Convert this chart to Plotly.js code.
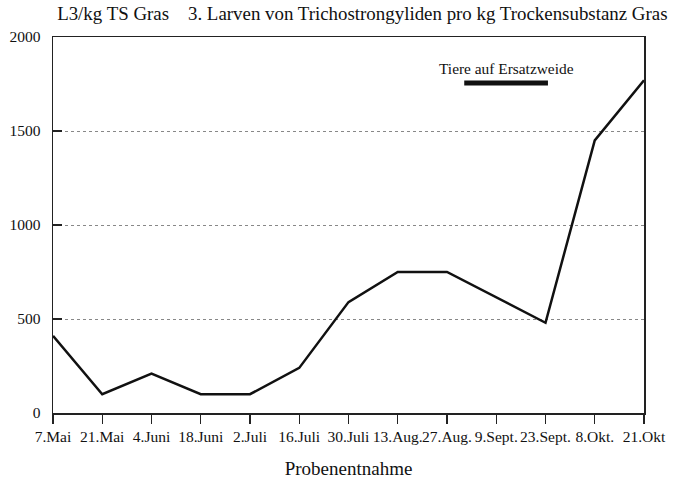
<!DOCTYPE html>
<html>
<head>
<meta charset="utf-8">
<script src="https://cdn.plot.ly/plotly-3.0.1.min.js"></script>
<style>html,body{margin:0;padding:0;background:#fff;}#chart{width:679px;height:479px;}</style>
</head>
<body>
<div id="chart"></div>
<script>
const dates = ["7.Mai","21.Mai","4.Juni","18.Juni","2.Juli","16.Juli","30.Juli","13.Aug.","27.Aug.","9.Sept.","23.Sept.","8.Okt.","21.Okt"];
const larvae = [410, 100, 210, 100, 100, 240, 590, 750, 750, 615, 480, 1450, 1770];
const yTicks = [0, 500, 1000, 1500, 2000];
const pastureLabel = "Tiere auf Ersatzweide";
const pastureStart = 8.35;
const pastureEnd = 10.05;
const pastureLevel = 1755;

const idx = dates.map((d, i) => i);
const font = "Liberation Serif, Times New Roman, serif";

const trace = {
  x: idx, y: larvae, type: "scatter", mode: "lines",
  line: {color: "#111", width: 2.5}, hoverinfo: "skip"
};

const layout = {
  width: 679, height: 479,
  margin: {l: 53, r: 35, t: 37, b: 66},
  paper_bgcolor: "#fff", plot_bgcolor: "#fff",
  showlegend: false,
  font: {family: font, color: "#111", size: 15.5},
  xaxis: {
    range: [0, 12], tickvals: idx, ticktext: dates, tickangle: 0,
    ticks: "outside", ticklen: 9, tickwidth: 1.2, tickcolor: "#222",
    showline: true, linecolor: "#222", linewidth: 1.5, mirror: true,
    showgrid: false, zeroline: false, fixedrange: true,
    tickfont: {family: font, size: 15.5, color: "#111"},
    title: {text: "Probenentnahme", font: {family: font, size: 19, color: "#111"}, standoff: 22}
  },
  yaxis: {
    range: [0, 2000], tickvals: yTicks,
    ticks: "inside", ticklen: 9, tickwidth: 1.2, tickcolor: "#222",
    ticklabelstandoff: 8,
    showline: true, linecolor: "#222", linewidth: 1.5, mirror: true,
    showgrid: true, gridcolor: "#888", griddash: "dot", gridwidth: 1,
    zeroline: false, fixedrange: true,
    tickfont: {family: font, size: 15.5, color: "#111"}
  },
  title: {
    text: "L3/kg TS Gras    3. Larven von Trichostrongyliden pro kg Trockensubstanz Gras",
    x: 0.007, xanchor: "left", xref: "paper", y: 0.972, yanchor: "middle",
    font: {family: font, size: 18.9, color: "#111"}
  },
  annotations: [{
    x: (pastureStart + pastureEnd) / 2, y: pastureLevel, xref: "x", yref: "y",
    text: pastureLabel, showarrow: false, yanchor: "bottom", yshift: 4,
    font: {family: font, size: 15.4, color: "#111"}
  }],
  shapes: [{
    type: "line", xref: "x", yref: "y",
    x0: pastureStart, x1: pastureEnd, y0: pastureLevel, y1: pastureLevel,
    line: {color: "#111", width: 5}
  }]
};

Plotly.newPlot("chart", [trace], layout, {displayModeBar: false, staticPlot: true});
</script>
</body>
</html>
